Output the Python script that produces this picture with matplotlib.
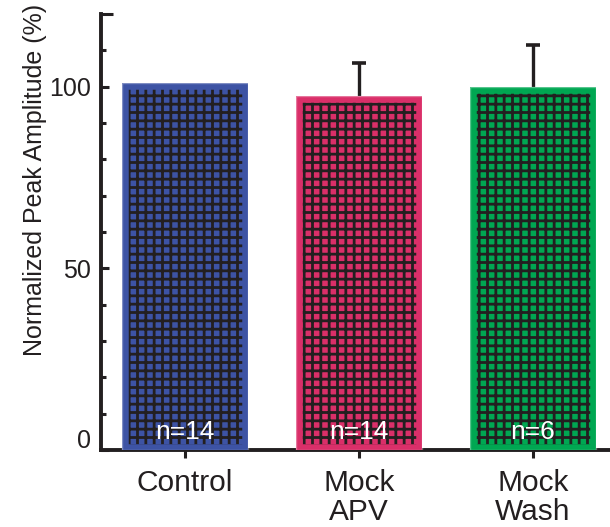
import numpy as np
import matplotlib
matplotlib.use("Agg")
import matplotlib.pyplot as plt
from matplotlib.ticker import FixedLocator, MultipleLocator
from matplotlib.transforms import ScaledTranslation

# ---- data ----
categories = ["Control", "Mock\nAPV", "Mock\nWash"]
values = [101.0, 97.5, 99.8]
errors = [0.0, 9.1, 11.8]
n_labels = ["n=14", "n=14", "n=6"]
colors = ["#3D53A4", "#DA2F69", "#00A752"]
ytick_vals = [0, 50, 100, 120]
ytick_labels = ["0", "50", "100", ""]
ylabel = "Normalized Peak Amplitude (%)"

ink = "#231F20"
plt.rcParams["font.family"] = ["Liberation Sans", "DejaVu Sans"]
plt.rcParams["hatch.linewidth"] = 2.0

fig = plt.figure(figsize=(6.10, 5.27), dpi=100)
ax = fig.add_axes([101 / 610, 77 / 527, 1 - 101 / 610, 436 / 527])

x = np.arange(len(categories))
width = 0.72

# hatched bars (hatch colour follows edgecolor)
bars = ax.bar(x, values, width, color=colors, edgecolor=ink, linewidth=0,
              hatch="++", zorder=2)
# inner plain border of each bar, clipped to the bar itself
border = ax.bar(x, values, width, facecolor="none", edgecolor=colors,
                linewidth=9, zorder=3)
for b2, b in zip(border, bars):
    b2.set_clip_path(b)
# thin lighter outline
ax.bar(x, values, width, facecolor="none", edgecolor="white", alpha=0.35,
       linewidth=1.0, zorder=3)

# error bars (only those with an error), drawn behind bars
mask = np.array(errors) > 0
ax.errorbar(x[mask], np.array(values)[mask], yerr=np.array(errors)[mask],
            fmt="none", ecolor=ink, elinewidth=2.4, capsize=4.7, capthick=2.6,
            zorder=1)

# n labels
for xi, lab in zip(x, n_labels):
    ax.text(xi, 5.0, lab, color="white", fontsize=19, ha="center",
            va="center", zorder=4)

ax.set_xlim(-0.483, 2.443)
ax.set_ylim(0, 120)

for s in ["top", "right"]:
    ax.spines[s].set_visible(False)
for s in ["left", "bottom"]:
    ax.spines[s].set_linewidth(2.8)
    ax.spines[s].set_color(ink)
    ax.spines[s].set_capstyle("projecting")

ax.yaxis.set_major_locator(FixedLocator(ytick_vals))
ax.set_yticklabels(ytick_labels)
ax.yaxis.set_minor_locator(MultipleLocator(10))
ax.tick_params(axis="y", which="major", direction="in", length=6, width=2.2,
               color=ink, labelsize=18, labelcolor=ink, pad=7)
ax.tick_params(axis="y", which="minor", direction="in", length=3.8, width=2.2,
               color=ink)
ax.yaxis.get_major_ticks()[-1].tick1line.set_markersize(8.6)

ax.set_xticks(x)
ax.set_xticklabels(categories, linespacing=1.05)
ax.tick_params(axis="x", direction="out", length=5.8, width=2.2, color=ink,
               labelsize=21.5, labelcolor=ink, pad=8)

# shift "0" label upward like the reference
lab0 = ax.get_yticklabels()[0]
lab0.set_transform(lab0.get_transform() +
                   ScaledTranslation(0, 12 / 100, fig.dpi_scale_trans))

ax.set_ylabel(ylabel, fontsize=18, color=ink)
ax.yaxis.set_label_coords(-0.106, 0.62)

fig.savefig("out.png", dpi=100)
